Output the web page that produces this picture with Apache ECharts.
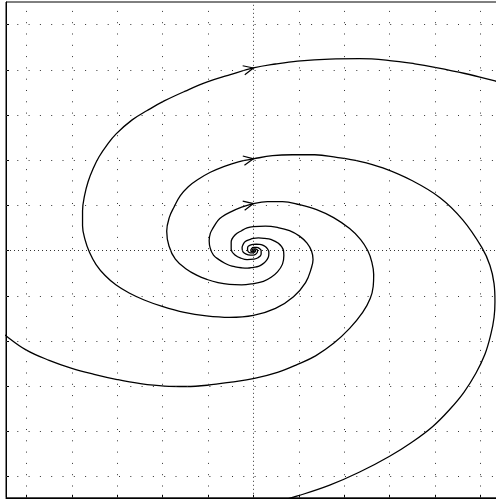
<!DOCTYPE html>
<html><head><meta charset="utf-8">
<script src="https://cdn.jsdelivr.net/npm/echarts@6/dist/echarts.min.js"></script>
<style>html,body{margin:0;padding:0;background:#fff}#c{width:496px;height:501px}</style>
</head><body><div id="c"></div>
<script>
// grid/tick positions (axis units)
const gridTicks = [-5, -4, -3, -2, -1, 0, 1, 2, 3, 4, 5];

// Trajectory 1 (outermost arrow)
const spiralA = [
  [0,0.01],[0.02,-0.01],[-0.02,-0.03],[-0.06,0.0],[0,0.07],
  [0.07,0.07],[0.14,0.04],[0.17,0],[0.17,-0.08],[0.10,-0.16],[0,-0.19],[-0.14,-0.20],[-0.27,-0.17],
  [-0.39,-0.11],[-0.49,0.03],[-0.49,0.19],[-0.40,0.35],[-0.26,0.44],[-0.14,0.50],
  [0,0.53],[0.265,0.541],[0.53,0.512],[0.795,0.442],[1.015,0.32],[1.181,0.166],[1.28,-0.011],
  [1.313,-0.199],[1.28,-0.375],[1.148,-0.71],[0.883,-1.02],[0.486,-1.28],[0,-1.435],[-0.53,-1.479],
  [-1.038,-1.446],[-1.523,-1.369],[-2.009,-1.236],[-2.406,-1.093],[-2.737,-0.938],[-3.024,-0.762],
  [-3.267,-0.552],[-3.466,-0.309],[-3.609,-0.044],[-3.709,0.243],[-3.764,0.552],[-3.764,0.883],
  [-3.72,1.214],[-3.642,1.523],[-3.532,1.81],[-3.4,2.075],[-3.223,2.34],[-3.024,2.583],[-2.671,2.892],
  [-2.34,3.099],[-1.965,3.311],[-1.501,3.528],[-1.015,3.731],[-0.508,3.894],[0,4.04],
  [0.486,4.128],[0.971,4.194],[1.678,4.238],[2.34,4.245],[3.0,4.205],[3.554,4.132],[3.996,4.055],
  [4.658,3.918],[5.32,3.753],[6.093,3.554]
];

// Trajectory 2 (middle arrow)
const spiralB = [
  [0.005,0],[0,-0.02],[-0.03,0.01],[0,0.036],
  [0.05,0.035],[0.09,0.0],[0.085,-0.04],[0.05,-0.08],[0,-0.10],[-0.07,-0.10],[-0.16,-0.08],
  [-0.23,-0.03],[-0.25,0.06],[-0.23,0.13],[-0.18,0.20],[-0.07,0.25],
  [0,0.27],[0.11,0.28],[0.25,0.27],[0.38,0.25],[0.55,0.16],[0.66,0.01],[0.67,-0.11],[0.64,-0.30],
  [0.53,-0.47],[0.39,-0.59],[0.22,-0.68],[0,-0.73],[-0.26,-0.76],[-0.53,-0.75],[-0.78,-0.71],
  [-1.02,-0.64],[-1.24,-0.55],[-1.49,-0.40],[-1.72,-0.19],[-1.86,0.10],[-1.91,0.43],[-1.85,0.74],
  [-1.75,0.96],[-1.61,1.214],[-1.435,1.413],[-1.214,1.578],[-0.949,1.733],[-0.64,1.865],
  [-0.331,1.965],[0,2.03],
  [0.42,2.10],[0.86,2.12],[1.35,2.12],[1.83,2.064],[2.34,1.976],[2.85,1.83],[3.49,1.55],[4.11,1.17],
  [4.61,0.68],[5.03,0.07],[5.21,-0.33],[5.30,-0.73],[5.32,-1.13],[5.30,-1.48],[5.23,-1.85],
  [5.099,-2.296],[4.9,-2.715],[4.636,-3.135],[4.327,-3.51],[3.95,-3.89],[3.49,-4.24],[3.00,-4.55],
  [2.34,-4.90],[1.68,-5.19],[0.97,-5.43],[0.35,-5.61]
];

// Trajectory 3 (inner arrow)
const spiralC = [
  [0.003,0],[0,0.018],[0.03,0.015],[0.045,0],[0.035,-0.03],[0,-0.05],[-0.07,-0.05],[-0.115,-0.025],
  [-0.13,0.03],[-0.12,0.09],[-0.07,0.12],
  [0,0.137],[0.06,0.14],[0.13,0.137],[0.19,0.126],[0.26,0.09],[0.31,0.04],[0.335,-0.01],[0.34,-0.057],[0.325,-0.155],
  [0.27,-0.24],[0.2,-0.30],[0.11,-0.35],[0,-0.37],[-0.13,-0.39],[-0.27,-0.38],[-0.40,-0.36],[-0.52,-0.33],
  [-0.63,-0.28],[-0.76,-0.20],[-0.88,-0.10],[-0.95,0.05],[-0.975,0.22],[-0.95,0.38],[-0.895,0.49],
  [-0.78,0.67],[-0.69,0.75],[-0.51,0.85],[-0.26,0.96],[0,1.04],
  [0.309,1.082],[0.64,1.082],[1.015,1.015],[1.391,0.905],[1.766,0.728],[2.119,0.486],[2.362,0.243],
  [2.517,0],[2.605,-0.243],[2.649,-0.53],[2.638,-0.795],[2.572,-1.06],[2.406,-1.369],[2.119,-1.722],
  [1.766,-2.053],[1.369,-2.329],[0.971,-2.517],[0.53,-2.693],[0.022,-2.826],[-0.49,-2.91],
  [-1.02,-2.98],[-1.48,-3.007],[-1.96,-2.998],[-2.52,-2.94],[-3.00,-2.854],[-3.51,-2.737],
  [-4.00,-2.605],[-4.50,-2.428],[-5.01,-2.196],[-5.43,-1.90],[-5.94,-1.48]
];

// arrow tips on each trajectory
const arrowTips = [[0,4.04],[0,2.03],[0,1.04]];

const spirals = [spiralA, spiralB, spiralC];
const arrowData = arrowTips.map((t, k) => {
  const s = spirals[k];
  const i = s.findIndex(p => p[0] === t[0] && p[1] === t[1]);
  return [t[0], t[1], s[i-1][0], s[i-1][1], s[i+1][0], s[i+1][1]];
});

const dotColor = '#333';
const gridMarks = [];
gridTicks.forEach(v => {
  const dense = v === 0;
  const ls = {color: dotColor, width: 1, type: dense ? [1, 3] : [1, 10.3]};
  gridMarks.push({xAxis: v, lineStyle: ls});
  gridMarks.push({yAxis: v, lineStyle: ls});
});

const chart = echarts.init(document.getElementById('c'), null, {renderer: 'canvas'});
const axisCommon = {
  type: 'value',
  axisLine: {show: true, onZero: false, lineStyle: {color: '#000', width: 1}},
  axisTick: {show: true, inside: true, length: 3, customValues: gridTicks, lineStyle: {color: '#000'}},
  axisLabel: {show: false},
  splitLine: {show: false}
};
const lineSeries = (data) => ({
  type: 'line', data: data, showSymbol: false, symbol: 'none', smooth: 0.4,
  lineStyle: {color: '#000', width: 1.3}, z: 3, clip: true, animation: false
});
chart.setOption({
  animation: false,
  backgroundColor: '#fff',
  grid: {left: 6, top: 2, width: 499.4, height: 495.8, show: true, borderColor: '#000', borderWidth: 1,
         containLabel: false, outerBoundsMode: 'none'},
  xAxis: Object.assign({}, axisCommon, {min: -5.45, max: 5.55}),
  yAxis: Object.assign({}, axisCommon, {min: -5.47, max: 5.5}),
  series: [
    {
      type: 'line', data: [[0,0]], symbol: 'none', lineStyle: {opacity: 0}, z: 1,
      markLine: {silent: true, symbol: ['none','none'], label: {show: false}, animation: false, data: gridMarks}
    },
    lineSeries(spiralA),
    lineSeries(spiralB),
    lineSeries(spiralC),
    {
      type: 'custom', data: arrowData, encode: {x: 0, y: 1}, z: 4, clip: true,
      renderItem: function (params, api) {
        const tip = api.coord([api.value(0), api.value(1)]);
        const prev = api.coord([api.value(2), api.value(3)]);
        const next = api.coord([api.value(4), api.value(5)]);
        const ang = Math.atan2(next[1] - prev[1], next[0] - prev[0]);
        const L = 11, h = 25 * Math.PI / 180;
        const b1 = [tip[0] - L * Math.cos(ang - h), tip[1] - L * Math.sin(ang - h)];
        const b2 = [tip[0] - L * Math.cos(ang + h), tip[1] - L * Math.sin(ang + h)];
        return {type: 'polyline', shape: {points: [b1, tip, b2]}, style: {stroke: '#000', lineWidth: 1.2, fill: null}};
      }
    }
  ]
});
</script></body></html>
